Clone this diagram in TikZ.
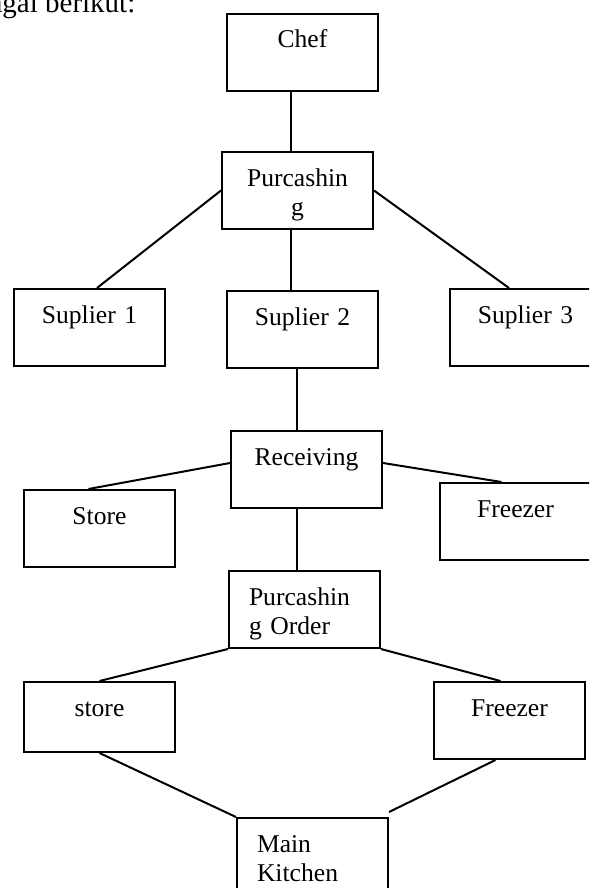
\documentclass[tikz,border=0pt]{standalone}
\usepackage{fontspec}
\setmainfont{Liberation Serif}

\tikzset{
  box/.style={draw, anchor=north west, inner xsep=0pt, inner ysep=6pt,
    text width=75.5pt, align=center, text height=11pt, text depth=15.5pt,
    font=\fontsize{12.8}{14.5}\selectfont},
  boxleft/.style={box, text width=55.5pt, inner xsep=10pt, align=left}
}

\begin{document}
\begin{tikzpicture}[x=0.5pt, y=-0.5pt, line width=1pt]

  \useasboundingbox (0,0) rectangle (589,888);
  \clip (0,0) rectangle (589,888);

  \node [anchor=base east, font=\fontsize{14.5}{17}\selectfont] (intro) at (143,13) {sebagai berikut:};

  \node [box] (chef) at (226,13) {Chef};
  \node [box] (purc) at (221,151) {Purcashin\\g};

  \node [box] (sup1) at (13,288) {Suplier 1};
  \node [box] (sup2) at (226,290) {Suplier 2};
  \node [box] (sup3) at (449,288) {Suplier 3};

  \node [box] (recv) at (230,430) {Receiving};
  \node [box] (store) at (23,489) {Store};
  \node [box] (freezer) at (439,482) {Freezer};

  \node [boxleft] (order) at (228,570) {Purcashin\\g Order};
  \node [box, text depth=12pt] (storeb) at (23,681) {store};
  \node [box] (freezerb) at (433,681) {Freezer};

  \node [boxleft] (kitchen) at (236,817) {Main\\Kitchen};

  \draw ([xshift=-5.75pt]chef.south) -- ([xshift=-3.25pt]purc.north);
  \draw (purc.west) -- ([xshift=3.75pt]sup1.north);
  \draw ([xshift=-3.25pt]purc.south) -- ([xshift=-5.75pt]sup2.north);
  \draw (purc.east) -- ([xshift=-8.25pt]sup3.north);

  \draw ([xshift=-2.75pt]sup2.south) -- ([xshift=-4.75pt]recv.north);
  \draw ([yshift=3.25pt]recv.west) -- ([xshift=-5.5pt]store.north);
  \draw ([yshift=3.25pt]recv.east) -- ([xshift=-7pt]freezer.north);
  \draw ([xshift=-4.75pt]recv.south) -- ([xshift=-3.75pt]order.north);

  \draw (order.south west) -- (storeb.north);
  \draw (order.south east) -- ([xshift=-4.5pt]freezerb.north);
  \draw (storeb.south) -- (kitchen.north west);
  \draw ([xshift=-7pt]freezerb.south) -- ([yshift=2.5pt]kitchen.north east);

\end{tikzpicture}
\end{document}
